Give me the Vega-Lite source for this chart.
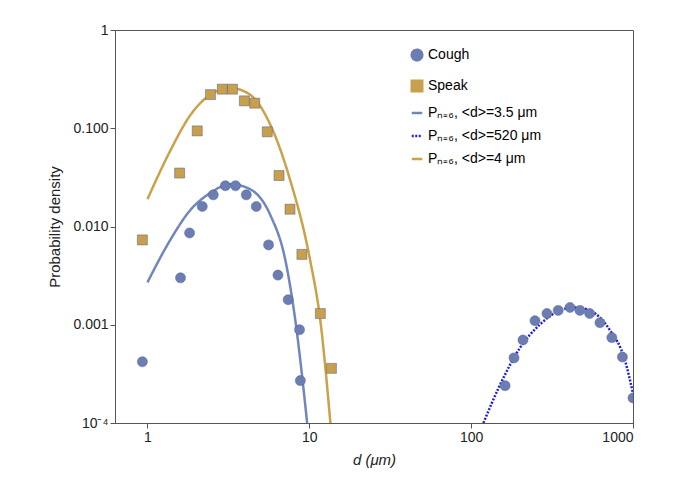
{
  "$schema": "https://vega.github.io/schema/vega-lite/v6.json",
  "width": 518,
  "height": 393,
  "autosize": "none",
  "padding": {"left": 115, "top": 30, "right": 47, "bottom": 67},
  "background": "white",
  "config": {
    "font": "Liberation Sans",
    "view": {"stroke": "#555", "strokeWidth": 1},
    "axis": {"labelFontSize": 14, "titleFontSize": 15, "titleFontWeight": "normal", "labelColor": "#222", "titleColor": "#222", "tickColor": "#555", "domainColor": "#555", "grid": false}
  },
  "data": {
    "values": [
      {"d": 0.93, "p": 0.0073, "series": "Speak", "kind": "pt"},
      {"d": 1.58, "p": 0.035, "series": "Speak", "kind": "pt"},
      {"d": 2.03, "p": 0.094, "series": "Speak", "kind": "pt"},
      {"d": 2.45, "p": 0.22, "series": "Speak", "kind": "pt"},
      {"d": 2.9, "p": 0.25, "series": "Speak", "kind": "pt"},
      {"d": 3.35, "p": 0.25, "series": "Speak", "kind": "pt"},
      {"d": 3.97, "p": 0.19, "series": "Speak", "kind": "pt"},
      {"d": 4.6, "p": 0.18, "series": "Speak", "kind": "pt"},
      {"d": 5.5, "p": 0.092, "series": "Speak", "kind": "pt"},
      {"d": 6.5, "p": 0.033, "series": "Speak", "kind": "pt"},
      {"d": 7.6, "p": 0.015, "series": "Speak", "kind": "pt"},
      {"d": 9.0, "p": 0.0052, "series": "Speak", "kind": "pt"},
      {"d": 11.7, "p": 0.0013, "series": "Speak", "kind": "pt"},
      {"d": 13.7, "p": 0.00036, "series": "Speak", "kind": "pt"},

      {"d": 0.93, "p": 0.00042, "series": "Cough", "kind": "pt"},
      {"d": 1.6, "p": 0.003, "series": "Cough", "kind": "pt"},
      {"d": 1.82, "p": 0.0086, "series": "Cough", "kind": "pt"},
      {"d": 2.18, "p": 0.016, "series": "Cough", "kind": "pt"},
      {"d": 2.55, "p": 0.021, "series": "Cough", "kind": "pt"},
      {"d": 3.03, "p": 0.026, "series": "Cough", "kind": "pt"},
      {"d": 3.5, "p": 0.026, "series": "Cough", "kind": "pt"},
      {"d": 4.08, "p": 0.021, "series": "Cough", "kind": "pt"},
      {"d": 4.7, "p": 0.016, "series": "Cough", "kind": "pt"},
      {"d": 5.6, "p": 0.0065, "series": "Cough", "kind": "pt"},
      {"d": 6.4, "p": 0.0032, "series": "Cough", "kind": "pt"},
      {"d": 7.4, "p": 0.0018, "series": "Cough", "kind": "pt"},
      {"d": 8.7, "p": 0.00089, "series": "Cough", "kind": "pt"},
      {"d": 8.8, "p": 0.00027, "series": "Cough", "kind": "pt"},
      {"d": 162, "p": 0.00024, "series": "Cough", "kind": "pt"},
      {"d": 184, "p": 0.00046, "series": "Cough", "kind": "pt"},
      {"d": 209, "p": 0.0007, "series": "Cough", "kind": "pt"},
      {"d": 248, "p": 0.0011, "series": "Cough", "kind": "pt"},
      {"d": 294, "p": 0.0013, "series": "Cough", "kind": "pt"},
      {"d": 345, "p": 0.0014, "series": "Cough", "kind": "pt"},
      {"d": 408, "p": 0.0015, "series": "Cough", "kind": "pt"},
      {"d": 470, "p": 0.0014, "series": "Cough", "kind": "pt"},
      {"d": 540, "p": 0.0013, "series": "Cough", "kind": "pt"},
      {"d": 625, "p": 0.00105, "series": "Cough", "kind": "pt"},
      {"d": 740, "p": 0.00074, "series": "Cough", "kind": "pt"},
      {"d": 860, "p": 0.00047, "series": "Cough", "kind": "pt"},
      {"d": 1000, "p": 0.00018, "series": "Cough", "kind": "pt"},

      {"d": 1, "p": 0.0027, "series": "Pₙ₌₆, <d>=3.5 μm", "kind": "line"},
      {"d": 1.39, "p": 0.0074, "series": "Pₙ₌₆, <d>=3.5 μm", "kind": "line"},
      {"d": 1.84, "p": 0.0147, "series": "Pₙ₌₆, <d>=3.5 μm", "kind": "line"},
      {"d": 2.45, "p": 0.022, "series": "Pₙ₌₆, <d>=3.5 μm", "kind": "line"},
      {"d": 3.25, "p": 0.027, "series": "Pₙ₌₆, <d>=3.5 μm", "kind": "line"},
      {"d": 4.3, "p": 0.024, "series": "Pₙ₌₆, <d>=3.5 μm", "kind": "line"},
      {"d": 5.75, "p": 0.013, "series": "Pₙ₌₆, <d>=3.5 μm", "kind": "line"},
      {"d": 7.1, "p": 0.0046, "series": "Pₙ₌₆, <d>=3.5 μm", "kind": "line"},
      {"d": 8.2, "p": 0.0011, "series": "Pₙ₌₆, <d>=3.5 μm", "kind": "line"},
      {"d": 9.7, "p": 0.0001, "series": "Pₙ₌₆, <d>=3.5 μm", "kind": "line"},

      {"d": 119, "p": 0.0001, "series": "Pₙ₌₆, <d>=520 μm", "kind": "line"},
      {"d": 150, "p": 0.00024, "series": "Pₙ₌₆, <d>=520 μm", "kind": "line"},
      {"d": 200, "p": 0.00058, "series": "Pₙ₌₆, <d>=520 μm", "kind": "line"},
      {"d": 265, "p": 0.001, "series": "Pₙ₌₆, <d>=520 μm", "kind": "line"},
      {"d": 355, "p": 0.0014, "series": "Pₙ₌₆, <d>=520 μm", "kind": "line"},
      {"d": 440, "p": 0.0015, "series": "Pₙ₌₆, <d>=520 μm", "kind": "line"},
      {"d": 540, "p": 0.0014, "series": "Pₙ₌₆, <d>=520 μm", "kind": "line"},
      {"d": 720, "p": 0.00088, "series": "Pₙ₌₆, <d>=520 μm", "kind": "line"},
      {"d": 890, "p": 0.00044, "series": "Pₙ₌₆, <d>=520 μm", "kind": "line"},
      {"d": 1000, "p": 0.0002, "series": "Pₙ₌₆, <d>=520 μm", "kind": "line"},

      {"d": 1, "p": 0.019, "series": "Pₙ₌₆, <d>=4 μm", "kind": "line"},
      {"d": 1.39, "p": 0.06, "series": "Pₙ₌₆, <d>=4 μm", "kind": "line"},
      {"d": 1.84, "p": 0.136, "series": "Pₙ₌₆, <d>=4 μm", "kind": "line"},
      {"d": 2.45, "p": 0.22, "series": "Pₙ₌₆, <d>=4 μm", "kind": "line"},
      {"d": 3.25, "p": 0.257, "series": "Pₙ₌₆, <d>=4 μm", "kind": "line"},
      {"d": 4.3, "p": 0.22, "series": "Pₙ₌₆, <d>=4 μm", "kind": "line"},
      {"d": 5.75, "p": 0.108, "series": "Pₙ₌₆, <d>=4 μm", "kind": "line"},
      {"d": 7.6, "p": 0.03, "series": "Pₙ₌₆, <d>=4 μm", "kind": "line"},
      {"d": 10.1, "p": 0.0046, "series": "Pₙ₌₆, <d>=4 μm", "kind": "line"},
      {"d": 11.7, "p": 0.0011, "series": "Pₙ₌₆, <d>=4 μm", "kind": "line"},
      {"d": 13.5, "p": 0.0001, "series": "Pₙ₌₆, <d>=4 μm", "kind": "line"}
    ]
  },
  "encoding": {
    "x": {
      "field": "d", "type": "quantitative",
      "scale": {"type": "log", "domain": [0.63, 1000], "nice": false},
      "axis": {"title": "d (μm)", "titleFontStyle": "italic", "values": [1, 10, 100, 1000], "format": "d", "titlePadding": 8}
    },
    "y": {
      "field": "p", "type": "quantitative",
      "scale": {"type": "log", "domain": [0.0001, 1], "nice": false},
      "axis": {"title": "Probability density", "values": [0.0001, 0.001, 0.01, 0.1, 1],
        "labelExpr": "datum.value >= 0.999 ? '1' : datum.value > 0.05 ? '0.100' : datum.value > 0.005 ? '0.010' : datum.value > 0.0005 ? '0.001' : '10⁻⁴'", "titlePadding": 10}
    },
    "color": {
      "field": "series", "type": "nominal",
      "scale": {
        "domain": ["Cough", "Speak", "Pₙ₌₆, <d>=3.5 μm", "Pₙ₌₆, <d>=520 μm", "Pₙ₌₆, <d>=4 μm"],
        "range": ["#6b7db3", "#c89f4c", "#7186bd", "#2222cc", "#c9a24a"]
      },
      "legend": {
        "title": null, "orient": "none", "legendX": 295, "legendY": 18,
        "labelFontSize": 14, "symbolSize": 110, "rowPadding": 9, "symbolStrokeWidth": 2.5
      }
    },
    "shape": {
      "field": "series", "type": "nominal",
      "scale": {
        "domain": ["Cough", "Speak", "Pₙ₌₆, <d>=3.5 μm", "Pₙ₌₆, <d>=520 μm", "Pₙ₌₆, <d>=4 μm"],
        "range": ["circle", "square", "stroke", "stroke", "stroke"]
      }
    },
    "strokeDash": {
      "field": "series", "type": "nominal",
      "scale": {
        "domain": ["Cough", "Speak", "Pₙ₌₆, <d>=3.5 μm", "Pₙ₌₆, <d>=520 μm", "Pₙ₌₆, <d>=4 μm"],
        "range": [[1, 0], [1, 0], [1, 0], [2, 1.5], [1, 0]]
      }
    }
  },
  "layer": [
    {
      "transform": [{"filter": "datum.kind == 'line'"}],
      "mark": {"type": "line", "interpolate": "monotone", "strokeWidth": 2.5, "clip": true}
    },
    {
      "transform": [{"filter": "datum.kind == 'pt'"}],
      "mark": {"type": "point", "filled": true, "opacity": 1, "size": 100, "stroke": "#4a5a8a", "strokeWidth": 0.5, "clip": true}
    }
  ]
}
